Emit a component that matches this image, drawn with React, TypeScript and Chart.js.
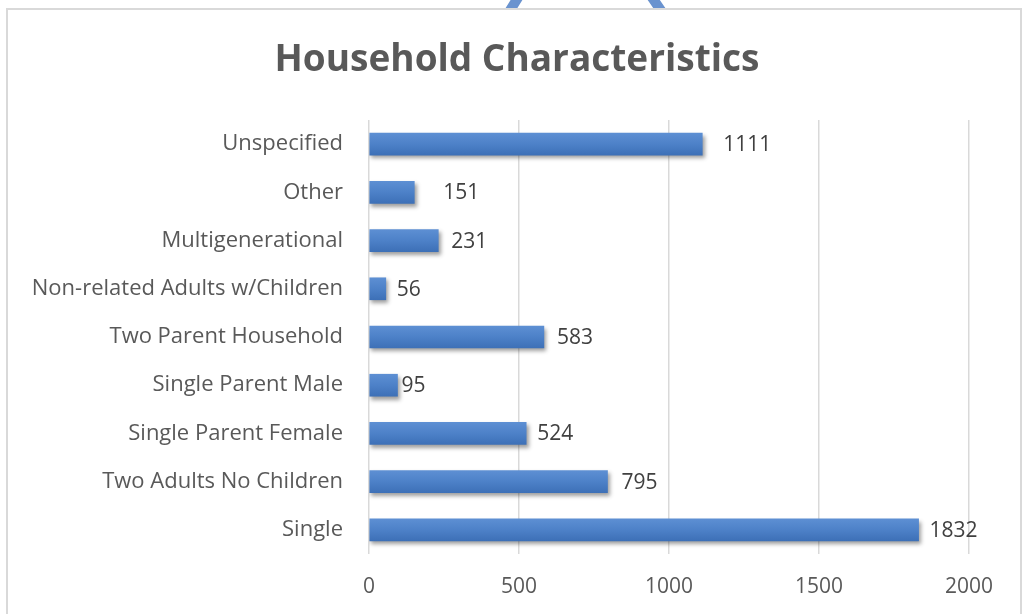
import React, { useEffect, useRef } from "react";
import { Chart, registerables } from "chart.js";

Chart.register(...registerables);

const categories = [
  "Unspecified",
  "Other",
  "Multigenerational",
  "Non-related Adults w/Children",
  "Two Parent Household",
  "Single Parent Male",
  "Single Parent Female",
  "Two Adults No Children",
  "Single",
];
const values = [1111, 151, 231, 56, 583, 95, 524, 795, 1832];
const xTicks = [0, 500, 1000, 1500, 2000];
const titleText = "Household Characteristics";
// extra spacing between each bar end and its value label (as placed in the original)
const labelGaps = [21, 29, 13, 11, 13, 4, 11, 14, 11];

const FONT = "'Open Sans', 'Liberation Sans', sans-serif";

const framePlugin = {
  id: "frame",
  beforeDraw(chart: any) {
    const ctx = chart.ctx;
    ctx.save();
    ctx.fillStyle = "#ffffff";
    ctx.fillRect(0, 0, chart.width, chart.height);
    // partial decoration peeking above the frame
    ctx.beginPath();
    ctx.rect(0, 0, chart.width, 9);
    ctx.clip();
    ctx.strokeStyle = "#6a93cf";
    ctx.lineWidth = 10;
    ctx.beginPath();
    ctx.moveTo(519, -4);
    ctx.lineTo(509, 12);
    ctx.moveTo(651, -4);
    ctx.lineTo(662, 12);
    ctx.stroke();
    ctx.restore();
    ctx.save();
    ctx.strokeStyle = "#d9d9d9";
    ctx.lineWidth = 2;
    ctx.strokeRect(7, 9, 1014, 640);
    // title, centred in the frame
    ctx.font = `bold 37px ${FONT}`;
    ctx.fillStyle = "#595959";
    ctx.textAlign = "center";
    ctx.textBaseline = "middle";
    ctx.fillText(titleText, 517, 60);
    ctx.restore();
  },
};

const shadowPlugin = {
  id: "barShadow",
  beforeDatasetDraw(chart: any) {
    const ctx = chart.ctx;
    ctx.save();
    ctx.shadowColor = "rgba(0,0,0,0.38)";
    ctx.shadowBlur = 4;
    ctx.shadowOffsetX = 2;
    ctx.shadowOffsetY = 3;
  },
  afterDatasetDraw(chart: any) {
    chart.ctx.restore();
  },
};

const labelPlugin = {
  id: "valueLabels",
  afterDatasetsDraw(chart: any) {
    const ctx = chart.ctx;
    const meta = chart.getDatasetMeta(0);
    ctx.save();
    ctx.font = `21px ${FONT}`;
    ctx.fillStyle = "#404040";
    ctx.textAlign = "left";
    ctx.textBaseline = "middle";
    meta.data.forEach((bar: any, i: number) => {
      ctx.fillText(String(values[i]), bar.x + labelGaps[i], bar.y + 1);
    });
    ctx.restore();
  },
};

export default function App() {
  const ref = useRef<HTMLCanvasElement>(null);

  useEffect(() => {
    if (!ref.current) return;
    const chart = new Chart(ref.current, {
      type: "bar",
      data: {
        labels: categories,
        datasets: [
          {
            data: values,
            barThickness: 22,
            borderWidth: 0,
            backgroundColor: (c: any) => {
              const ch = c.chart;
              const ys = ch.scales && ch.scales.y;
              if (!ys || c.dataIndex === undefined) return "#4a7fc4";
              const cy = ys.getPixelForValue(c.dataIndex);
              if (!Number.isFinite(cy)) return "#4a7fc4";
              const g = ch.ctx.createLinearGradient(0, cy - 11, 0, cy + 11);
              g.addColorStop(0, "#5d8fd3");
              g.addColorStop(0.5, "#4d81c8");
              g.addColorStop(1, "#3d70b7");
              return g;
            },
          },
        ],
      },
      options: {
        indexAxis: "y",
        responsive: false,
        animation: false,
        devicePixelRatio: 1,
        layout: { padding: { left: 0, right: 57, top: 120, bottom: 0 } },
        plugins: {
          legend: { display: false },
          tooltip: { enabled: false },
          title: { display: false },
        },
        scales: {
          x: {
            min: 0,
            max: 2000,
            afterBuildTicks: (s: any) => {
              s.ticks = xTicks.map((v) => ({ value: v }));
            },
            afterFit: (s: any) => {
              s.height = 60;
            },
            grid: { color: "#d9d9d9", lineWidth: 1.5, drawTicks: false },
            border: { display: false },
            ticks: {
              color: "#595959",
              font: { family: FONT, size: 21 },
              padding: 20,
              callback: (v: any) => String(v),
            },
          },
          y: {
            afterFit: (s: any) => {
              s.width = 369;
            },
            grid: { display: false, drawTicks: false },
            border: { display: false },
            ticks: {
              color: "#595959",
              font: { family: FONT, size: 22 },
              padding: 26,
            },
          },
        },
      },
      plugins: [framePlugin, shadowPlugin, labelPlugin],
    });
    return () => chart.destroy();
  }, []);

  return (
    <div style={{ position: "absolute", left: 0, top: 0, width: 1026, height: 614 }}>
      <canvas ref={ref} width={1026} height={614} style={{ display: "block" }} />
    </div>
  );
}
